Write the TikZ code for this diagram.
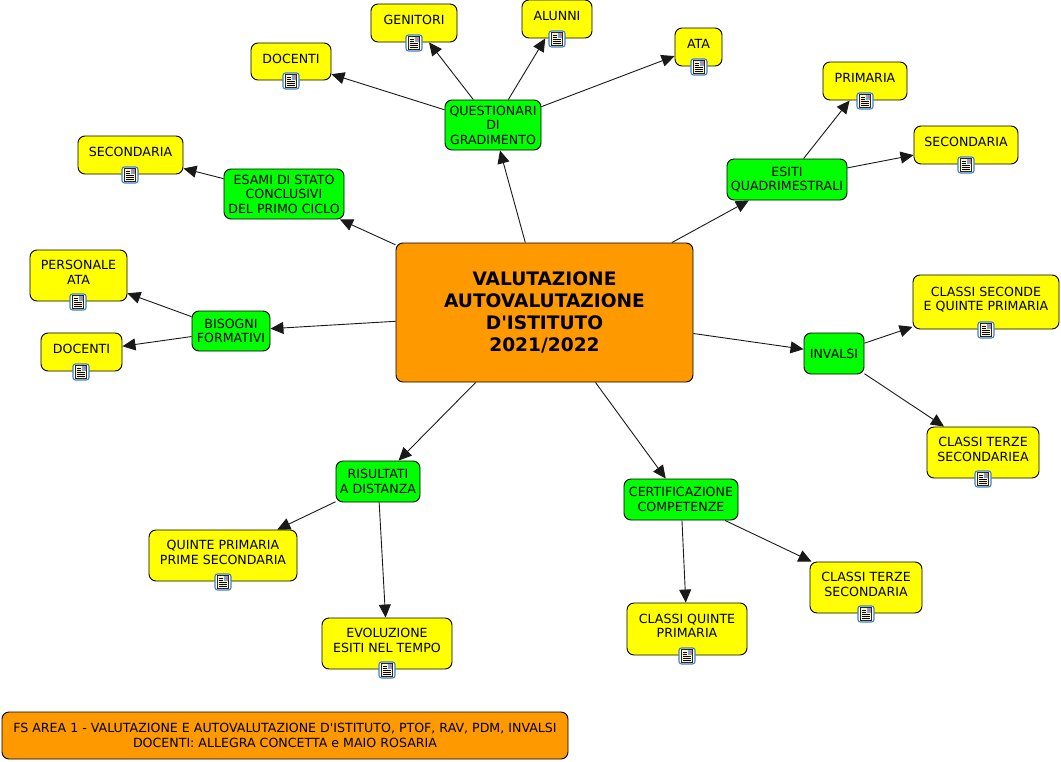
\documentclass[tikz,border=0pt]{standalone}
\usepackage{fontspec}
\setmainfont[Ligatures=TeXOff]{DejaVu Sans}
\usetikzlibrary{arrows.meta}
\definecolor{hubor}{HTML}{FF9900}
\definecolor{grn}{HTML}{00FF00}
\definecolor{ylw}{HTML}{FFFF00}
\definecolor{iconblue}{HTML}{3F7FC8}
\definecolor{iconcream}{HTML}{FFF6C8}
\tikzset{
  x=1pt,y=-1pt,
  basebox/.style={draw=black,line width=0.9pt,rounded corners=7pt,align=center,inner sep=0pt,
    font=\fontsize{12.6}{14.5}\selectfont,text=black},
  hub/.style={basebox,fill=hubor,font=\fontsize{18.6}{22}\bfseries\selectfont,text=black},
  topic/.style={basebox,fill=grn},
  leaf/.style={basebox,fill=ylw,text depth=6pt},
  note/.style={basebox,fill=hubor},
  link/.style={draw=black!90,line width=0.9pt,-{Triangle[length=13pt,width=12pt]}},
  pics/docicon/.style={code={
    \draw[iconblue,fill=white,line width=1.1pt,rounded corners=2.5pt] (-8,-8) rectangle (8,8);
    \draw[black!85,fill=iconcream,line width=0.9pt] (-5.8,-6.2) rectangle (5.8,6.2);
    \fill[iconblue!70] (0.5,-5.7) rectangle (5.3,-0.5);
    \fill[red!60] (2.7,-5.2) rectangle (4.8,-3.2);
    \draw[black,line width=0.8pt] (-4.3,-3.5) -- (-0.5,-3.5) (-4.3,-1.5) -- (-0.5,-1.5) (-4.3,0.7) -- (4.3,0.7) (-4.3,2.5) -- (4.3,2.5) (-4.3,4.3) -- (4.3,4.3);
  }}
}
\newcommand{\boxnode}[7]{\node[#1,minimum width={(#5)*1pt-(#3)*1pt},minimum height={(#6)*1pt-(#4)*1pt}] (#2) at ({((#3)+(#5))/2},{((#4)+(#6))/2}) {#7};}
\begin{document}
\begin{tikzpicture}
\useasboundingbox (0,0) rectangle (1061,761);
\boxnode{hub}{main}{396}{243}{693}{382}{VALUTAZIONE\\AUTOVALUTAZIONE\\D'ISTITUTO\\2021/2022}
\boxnode{topic}{quest}{445}{100}{541}{150}{QUESTIONARI\\DI\\GRADIMENTO}
\boxnode{topic}{esiti}{727}{159}{847}{200}{ESITI\\QUADRIMESTRALI}
\boxnode{topic}{esami}{224}{169}{344}{219}{ESAMI DI STATO\\CONCLUSIVI\\DEL PRIMO CICLO}
\boxnode{topic}{bisogni}{192}{311}{270}{351}{BISOGNI\\FORMATIVI}
\boxnode{topic}{invalsi}{804}{333}{864}{374}{INVALSI}
\boxnode{topic}{cert}{624}{479}{738}{520}{CERTIFICAZIONE\\COMPETENZE}
\boxnode{topic}{risult}{336}{461}{420}{502}{RISULTATI\\A DISTANZA}
\boxnode{leaf}{genitori}{371}{4}{457}{42}{GENITORI}
\boxnode{leaf}{alunni}{522}{0}{592}{38}{ALUNNI}
\boxnode{leaf}{docq}{251}{43}{331}{80}{DOCENTI}
\boxnode{leaf}{ata}{675}{28}{722}{66}{ATA}
\boxnode{leaf}{prim}{823}{62}{907}{100}{PRIMARIA}
\boxnode{leaf}{secr}{914}{126}{1018}{164}{SECONDARIA}
\boxnode{leaf}{secl}{78}{136}{183}{174}{SECONDARIA}
\boxnode{leaf}{pers}{30}{250}{127}{301}{PERSONALE\\ATA}
\boxnode{leaf}{docb}{41}{333}{122}{371}{DOCENTI}
\boxnode{leaf}{secqui}{913}{275}{1059}{329}{CLASSI SECONDE\\E QUINTE PRIMARIA}
\boxnode{leaf}{terzea}{927}{427}{1039}{478}{CLASSI TERZE\\SECONDARIEA}
\boxnode{leaf}{terze}{810}{562}{922}{613}{CLASSI TERZE\\SECONDARIA}
\boxnode{leaf}{quinte}{627}{603}{747}{655}{CLASSI QUINTE\\PRIMARIA}
\boxnode{leaf}{qprim}{149}{530}{297}{581}{QUINTE PRIMARIA\\PRIME SECONDARIA}
\boxnode{leaf}{evol}{322}{618}{452}{669}{EVOLUZIONE\\ESITI NEL TEMPO}
\boxnode{note}{fs}{2}{712}{568}{759}{FS AREA 1 - VALUTAZIONE E AUTOVALUTAZIONE D'ISTITUTO, PTOF, RAV, PDM, INVALSI\\DOCENTI: ALLEGRA CONCETTA e MAIO ROSARIA}
\foreach \a/\b in {main/quest,main/esiti,main/esami,main/bisogni,main/invalsi,main/cert,main/risult,
  quest/genitori,quest/alunni,quest/docq,quest/ata,esiti/prim,esiti/secr,esami/secl,bisogni/pers,bisogni/docb,
  invalsi/secqui,invalsi/terzea,cert/terze,cert/quinte,risult/qprim,risult/evol}
  \draw[link] (\a) -- (\b);
\foreach \n/\px in {genitori/414,alunni/557,docq/291,ata/699,prim/865,secr/966,secl/130,pers/78,docb/81,secqui/986,terzea/983,terze/866,quinte/687,qprim/223,evol/387}
  \path (\n.south) coordinate (tmp) (\px,0) coordinate (tmpx) (tmpx |- tmp) ++(0,0.5) pic {docicon};
\end{tikzpicture}
\end{document}
